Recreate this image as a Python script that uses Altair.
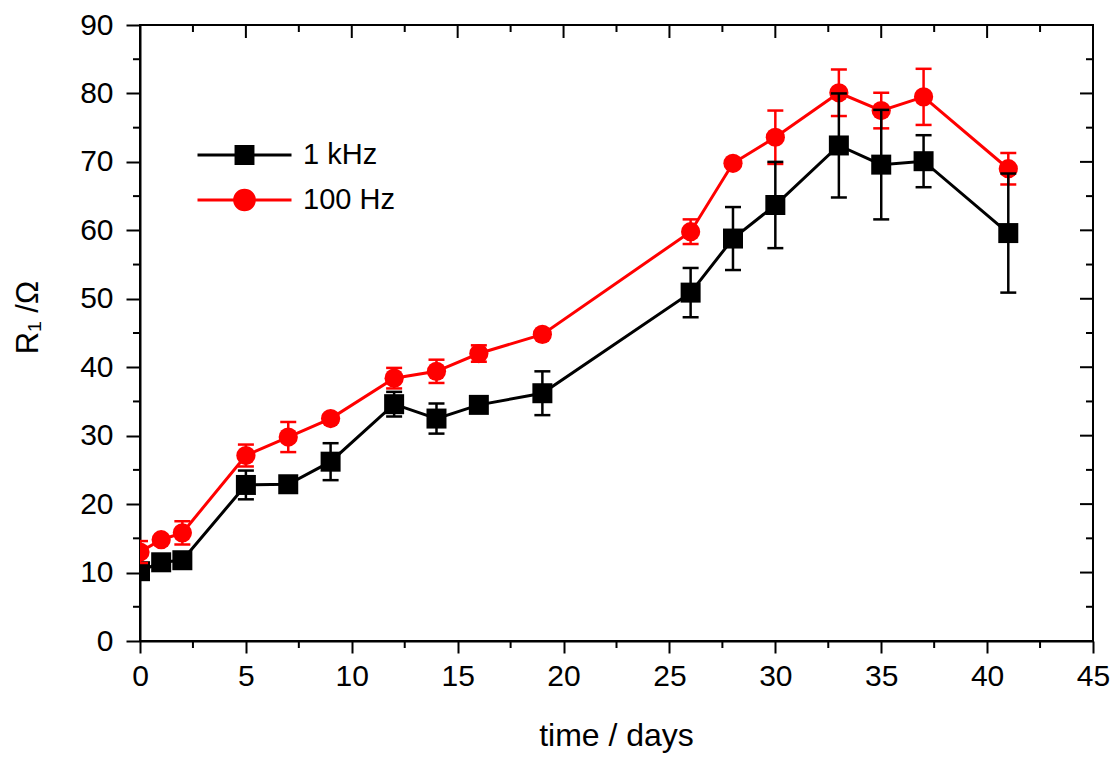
import altair as alt
import pandas as pd

FONT = "Liberation Sans"
W, H = 953, 616

# ---- data ----
days = [0, 1, 2, 5, 7, 9, 12, 14, 16, 19, 26, 28, 30, 33, 35, 37, 41]
r_1khz = [10.2, 11.5, 11.8, 22.8, 22.9, 26.2, 34.6, 32.5, 34.5, 36.2, 50.9, 58.8, 63.7, 72.4, 69.6, 70.1, 59.6]
e_1khz = [0.4, 0.4, 0.4, 2.1, 0.3, 2.7, 1.8, 2.2, 0.5, 3.2, 3.6, 4.6, 6.3, 7.6, 8.0, 3.8, 8.7]
r_100hz = [13.0, 14.8, 15.8, 27.1, 29.8, 32.5, 38.4, 39.4, 42.0, 44.8, 59.8, 69.8, 73.6, 80.1, 77.5, 79.5, 69.0]
e_100hz = [1.6, 0.5, 1.7, 1.6, 2.2, 0.6, 1.5, 1.7, 1.2, 0.5, 1.8, 0.5, 3.9, 3.4, 2.6, 4.1, 2.3]
series_names = ["1 kHz", "100 Hz"]
series_colors = ["#000000", "#ff0000"]

x_major = [0, 5, 10, 15, 20, 25, 30, 35, 40, 45]
x_minor = [2.5, 7.5, 12.5, 17.5, 22.5, 27.5, 32.5, 37.5, 42.5]
y_major = [0, 10, 20, 30, 40, 50, 60, 70, 80, 90]
y_minor = [5, 15, 25, 35, 45, 55, 65, 75, 85]

# legend symbols: line with marker (custom paths in [-1, 1])
legend_shapes = [
    "M-1,0L1,0M-0.18,-0.18L0.18,-0.18L0.18,0.18L-0.18,0.18Z",
    "M-1,0L1,0M0.21,0A0.21,0.21,0,1,1,-0.21,0A0.21,0.21,0,1,1,0.21,0Z",
]

df = pd.concat([
    pd.DataFrame({"t": days, "v": r_1khz, "err": e_1khz, "series": series_names[0]}),
    pd.DataFrame({"t": days, "v": r_100hz, "err": e_100hz, "series": series_names[1]}),
], ignore_index=True)
df["lo"] = df["v"] - df["err"]
df["hi"] = df["v"] + df["err"]

xscale = alt.Scale(domain=[0, 45], nice=False, zero=False)
yscale = alt.Scale(domain=[0, 90], nice=False, zero=False)

xaxis = alt.Axis(values=x_major, tickSize=12, tickWidth=2, tickColor="black",
                 domainWidth=2, domainColor="black", grid=False,
                 labelFont=FONT, labelFontSize=30, labelColor="black", labelPadding=8,
                 labelFlush=False, labelOverlap=False,
                 title="time / days", titleFont=FONT, titleFontSize=32, titleFontWeight="normal",
                 titleColor="black", titleX=476, titleY=104, titleBaseline="alphabetic",
                 titleAlign="center", titleAnchor="middle")
yaxis = alt.Axis(values=y_major, tickSize=14, tickWidth=2, tickColor="black",
                 domainWidth=2, domainColor="black", grid=False,
                 labelFont=FONT, labelFontSize=30, labelColor="black", labelPadding=13,
                 labelFlush=False, labelOverlap=False,
                 title="R₁ /Ω", titleFont=FONT, titleFontSize=31, titleFontWeight="normal",
                 titleColor="black", titleAngle=270, titleX=-103, titleY=292,
                 titleBaseline="alphabetic", titleAlign="center", titleAnchor="middle")

X = alt.X("t:Q", scale=xscale, axis=xaxis)
Y = alt.Y("v:Q", scale=yscale, axis=yaxis)

base = alt.Chart(df)


def sel(name):
    return base.transform_filter(alt.datum.series == name)


layers = []
# lines
for name, col in zip(series_names, series_colors):
    layers.append(sel(name).mark_line(color=col, strokeWidth=3, clip=True).encode(x=X, y=Y))
# markers
layers.append(sel(series_names[0]).mark_point(shape="square", filled=True, size=400,
                                              color=series_colors[0], opacity=1, clip=True).encode(x=X, y=Y))
layers.append(sel(series_names[1]).mark_point(shape="circle", filled=True, size=370,
                                              color=series_colors[1], opacity=1, clip=True).encode(x=X, y=Y))
# error bars (red first, then black)
for name, col in [(series_names[1], series_colors[1]), (series_names[0], series_colors[0])]:
    s = sel(name)
    layers.append(s.mark_rule(color=col, strokeWidth=2.5, clip=True).encode(
        x=X, y=alt.Y("lo:Q", scale=yscale, axis=yaxis), y2="hi:Q"))
    layers.append(s.mark_tick(color=col, orient="horizontal", size=16, thickness=2.5, opacity=1, clip=True).encode(
        x=X, y=alt.Y("lo:Q", scale=yscale, axis=yaxis)))
    layers.append(s.mark_tick(color=col, orient="horizontal", size=16, thickness=2.5, opacity=1, clip=True).encode(
        x=X, y=alt.Y("hi:Q", scale=yscale, axis=yaxis)))

# legend (from scale domain; no visible marks)
legend = alt.Legend(title=None, orient="none", legendX=56, legendY=115, padding=0,
                    labelFont=FONT, labelFontSize=29, labelColor="black", labelOffset=10,
                    symbolSize=8836, symbolStrokeWidth=3, symbolOpacity=1,
                    clipHeight=30, rowPadding=15)
layers.append(base.transform_filter("false").mark_point(filled=True, strokeWidth=3).encode(
    x=X, y=Y,
    shape=alt.Shape("series:N", scale=alt.Scale(domain=series_names, range=legend_shapes), legend=legend),
    fill=alt.Fill("series:N", scale=alt.Scale(domain=series_names, range=series_colors), legend=legend),
    stroke=alt.Stroke("series:N", scale=alt.Scale(domain=series_names, range=series_colors), legend=legend),
))

# frame ticks (minor outer ticks, inner ticks on top/right)
xt_major = pd.DataFrame({"tick": x_major})
xt_minor = pd.DataFrame({"tick": x_minor})
yt_major = pd.DataFrame({"tick": y_major})
yt_minor = pd.DataFrame({"tick": y_minor})
XT = alt.X("tick:Q", scale=xscale, axis=xaxis)
YT = alt.Y("tick:Q", scale=yscale, axis=yaxis)

layers += [
    alt.Chart(xt_minor).mark_rule(color="black", strokeWidth=2).encode(x=XT, y=alt.value(H), y2=alt.value(H + 7)),
    alt.Chart(xt_major).mark_rule(color="black", strokeWidth=2).encode(x=XT, y=alt.value(0), y2=alt.value(13)),
    alt.Chart(xt_minor).mark_rule(color="black", strokeWidth=2).encode(x=XT, y=alt.value(0), y2=alt.value(7)),
    alt.Chart(yt_minor).mark_rule(color="black", strokeWidth=2).encode(y=YT, x=alt.value(-7), x2=alt.value(0)),
    alt.Chart(yt_major).mark_rule(color="black", strokeWidth=2).encode(y=YT, x=alt.value(W - 13), x2=alt.value(W)),
    alt.Chart(yt_minor).mark_rule(color="black", strokeWidth=2).encode(y=YT, x=alt.value(W - 7), x2=alt.value(W)),
]

chart = alt.layer(*layers).properties(
    width=W, height=H,
    autosize=alt.AutoSizeParams(type="none"),
    padding={"left": 140, "top": 25, "right": 24, "bottom": 117},
    background="white",
).configure_view(stroke="black", strokeWidth=2)

chart.save("out.html", embed_options={"renderer": "svg", "actions": False})
